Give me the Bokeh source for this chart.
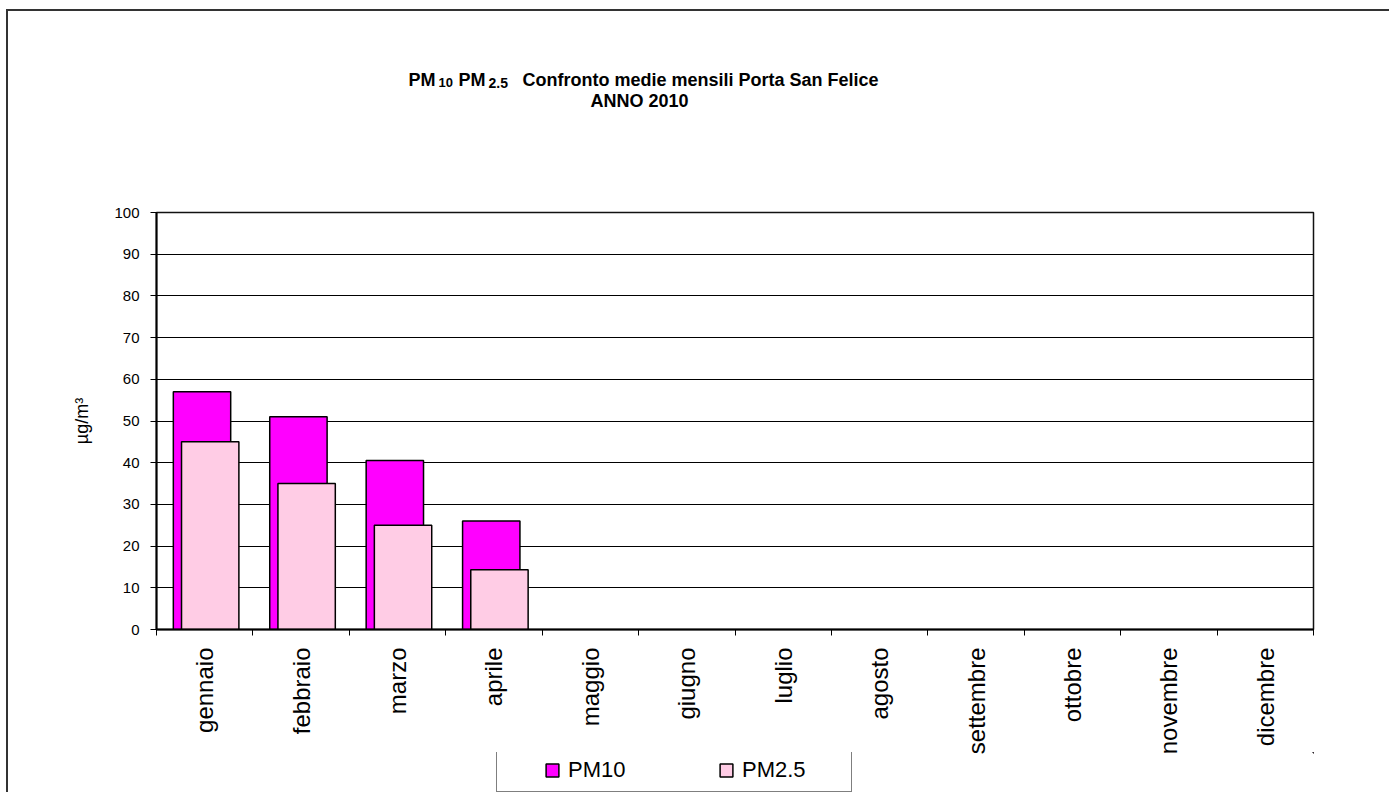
import math
import numpy as np
from bokeh.plotting import figure
from bokeh.layouts import column
from bokeh.models import Range1d, FixedTicker, Label, Legend, LegendItem
from bokeh.embed import file_html
from bokeh.resources import INLINE

# ---- data ----
months = ["gennaio", "febbraio", "marzo", "aprile", "maggio", "giugno",
          "luglio", "agosto", "settembre", "ottobre", "novembre", "dicembre"]
pm10 = [57, 51, 40.5, 26, None, None, None, None, None, None, None, None]
pm25 = [45, 35, 25, 14.3, None, None, None, None, None, None, None, None]
y_ticks = [0, 10, 20, 30, 40, 50, 60, 70, 80, 90, 100]
series_names = ["PM10", "PM2.5"]
series_colors = ["#FF00FF", "#FFCCE5"]
title_parts = ["PM", "10", "PM", "2.5", "Confronto medie mensili Porta San Felice"]
title_line2 = "ANNO 2010"
y_label = "µg/m³"

FONT = "Liberation Sans"
OX, OY = 8, 11                      # canvas origin inside the picture
W = 1381
FL, FR, FT, FB = 156 - OX, 1313 - OX, 212 - OY, 629 - OY   # plot area in canvas px
BOTTOM = 128                        # room for the rotated month labels
H1 = FB + BOTTOM                    # main chart canvas
H2 = 40                             # legend strip

idx = np.arange(len(months))
v10 = np.array([np.nan if v is None else v for v in pm10], dtype=float)
v25 = np.array([np.nan if v is None else v for v in pm25], dtype=float)

p = figure(width=W, height=H1, x_range=Range1d(0, len(months)), y_range=Range1d(0, 100),
           output_backend="svg", toolbar_location=None)
p.min_border_left = FL
p.min_border_right = W - FR
p.min_border_top = FT
p.min_border_bottom = BOTTOM
p.background_fill_color = "white"
p.border_fill_color = "white"
p.outline_line_color = "#111111"
p.outline_line_width = 1.5

r10 = p.vbar(x=idx + 0.472, top=v10, width=0.595, bottom=0,
             fill_color=series_colors[0], line_color="black", line_width=1.5)
r25 = p.vbar(x=idx + 0.557, top=v25, width=0.595, bottom=0,
             fill_color=series_colors[1], line_color="black", line_width=1.5)

# grid
p.xgrid.visible = False
p.ygrid.grid_line_color = "black"
p.ygrid.grid_line_width = 1
p.ygrid.ticker = FixedTicker(ticks=y_ticks)

# y axis
ya = p.yaxis[0]
ya.ticker = FixedTicker(ticks=y_ticks)
ya.axis_line_color = "black"
ya.axis_line_width = 2
ya.major_tick_out = 6
ya.major_tick_in = 0
ya.major_tick_line_color = "black"
ya.minor_tick_line_color = None
ya.major_label_text_font = FONT
ya.major_label_text_font_size = "15px"
ya.major_label_text_color = "black"
ya.major_label_standoff = 11
ya.axis_label = y_label
ya.axis_label_text_font = FONT
ya.axis_label_text_font_size = "18px"
ya.axis_label_text_font_style = "normal"
ya.axis_label_text_color = "black"
ya.axis_label_standoff = 19

# x axis: labels at centres, ticks at category boundaries (minor ticks)
xa = p.xaxis[0]
centres = [i + 0.5 for i in range(len(months))]
xa.ticker = FixedTicker(ticks=centres, minor_ticks=list(range(len(months) + 1)))
xa.major_label_overrides = {c: m for c, m in zip(centres, months)}
xa.major_label_orientation = math.pi / 2
xa.major_tick_out = 0
xa.major_tick_in = 0
xa.minor_tick_out = 6
xa.minor_tick_in = 0
xa.minor_tick_line_color = "black"
xa.axis_line_color = "black"
xa.axis_line_width = 2
xa.major_label_text_font = FONT
xa.major_label_text_font_size = "24px"
xa.major_label_text_color = "black"
xa.major_label_standoff = 12

# title pieces (side panel labels, canvas units)
LX, LY = 1, 8   # empirical label offset correction
def lab(txt, x, y, size, align="left"):
    p.add_layout(Label(x=x - OX - LX, y=y - OY - LY, x_units="canvas", y_units="canvas",
                       text=txt, text_font=FONT, text_font_size=size,
                       text_font_style="bold", text_color="black",
                       text_align=align, text_baseline="alphabetic"), "above")

lab(title_parts[0], 409, 87, "18px")
lab(title_parts[1], 439, 90, "13px")
lab(title_parts[2], 459, 87, "18px")
lab(title_parts[3], 489, 90, "14px")
lab(title_parts[4], 523, 87, "18px")
lab(title_line2, 640, 108, "18px", align="center")

# legend strip below the chart (frame is aligned with the main plot frame)
pl = figure(width=W, height=H2, x_range=Range1d(-200, -199), y_range=Range1d(-200, -199),
            output_backend="svg", toolbar_location=None,
            x_axis_location=None, y_axis_location=None, min_border=0)
pl.min_border_top = pl.min_border_bottom = 0
pl.outline_line_color = None
pl.grid.visible = False
pl.background_fill_alpha = 0
pl.border_fill_alpha = 0
# same series (far outside this strip's view) only to provide the legend swatches
lr = [pl.vbar(x=idx, top=v, width=0.5, bottom=0, fill_color=c, line_color="black", line_width=1.5)
      for v, c in zip([v10, v25], series_colors)]
LEG_H = 40
legend = Legend(items=[LegendItem(label=n, renderers=[r]) for n, r in zip(series_names, lr)],
                orientation="horizontal", location=(496 - 156, H2 - LEG_H),
                title=" ", title_location="left", title_text_font_size="1px",
                title_standoff=38,
                label_text_font=FONT, label_text_font_size="22px", label_text_color="black",
                label_width=101, label_height=24, label_standoff=8,
                glyph_width=16, glyph_height=16, spacing=49,
                padding=8, margin=0, border_line_color="black", border_line_width=1,
                background_fill_color="white", background_fill_alpha=1)
pl.add_layout(legend, "center")
pl.styles = {"margin-top": "-5px"}

layout = column(p, pl, spacing=0)
layout.styles = {"border-top": "2px solid #333333", "border-left": "2px solid #333333",
                 "margin-left": "6px", "margin-top": "9px"}

open("out.html", "w").write(file_html(layout, INLINE))
